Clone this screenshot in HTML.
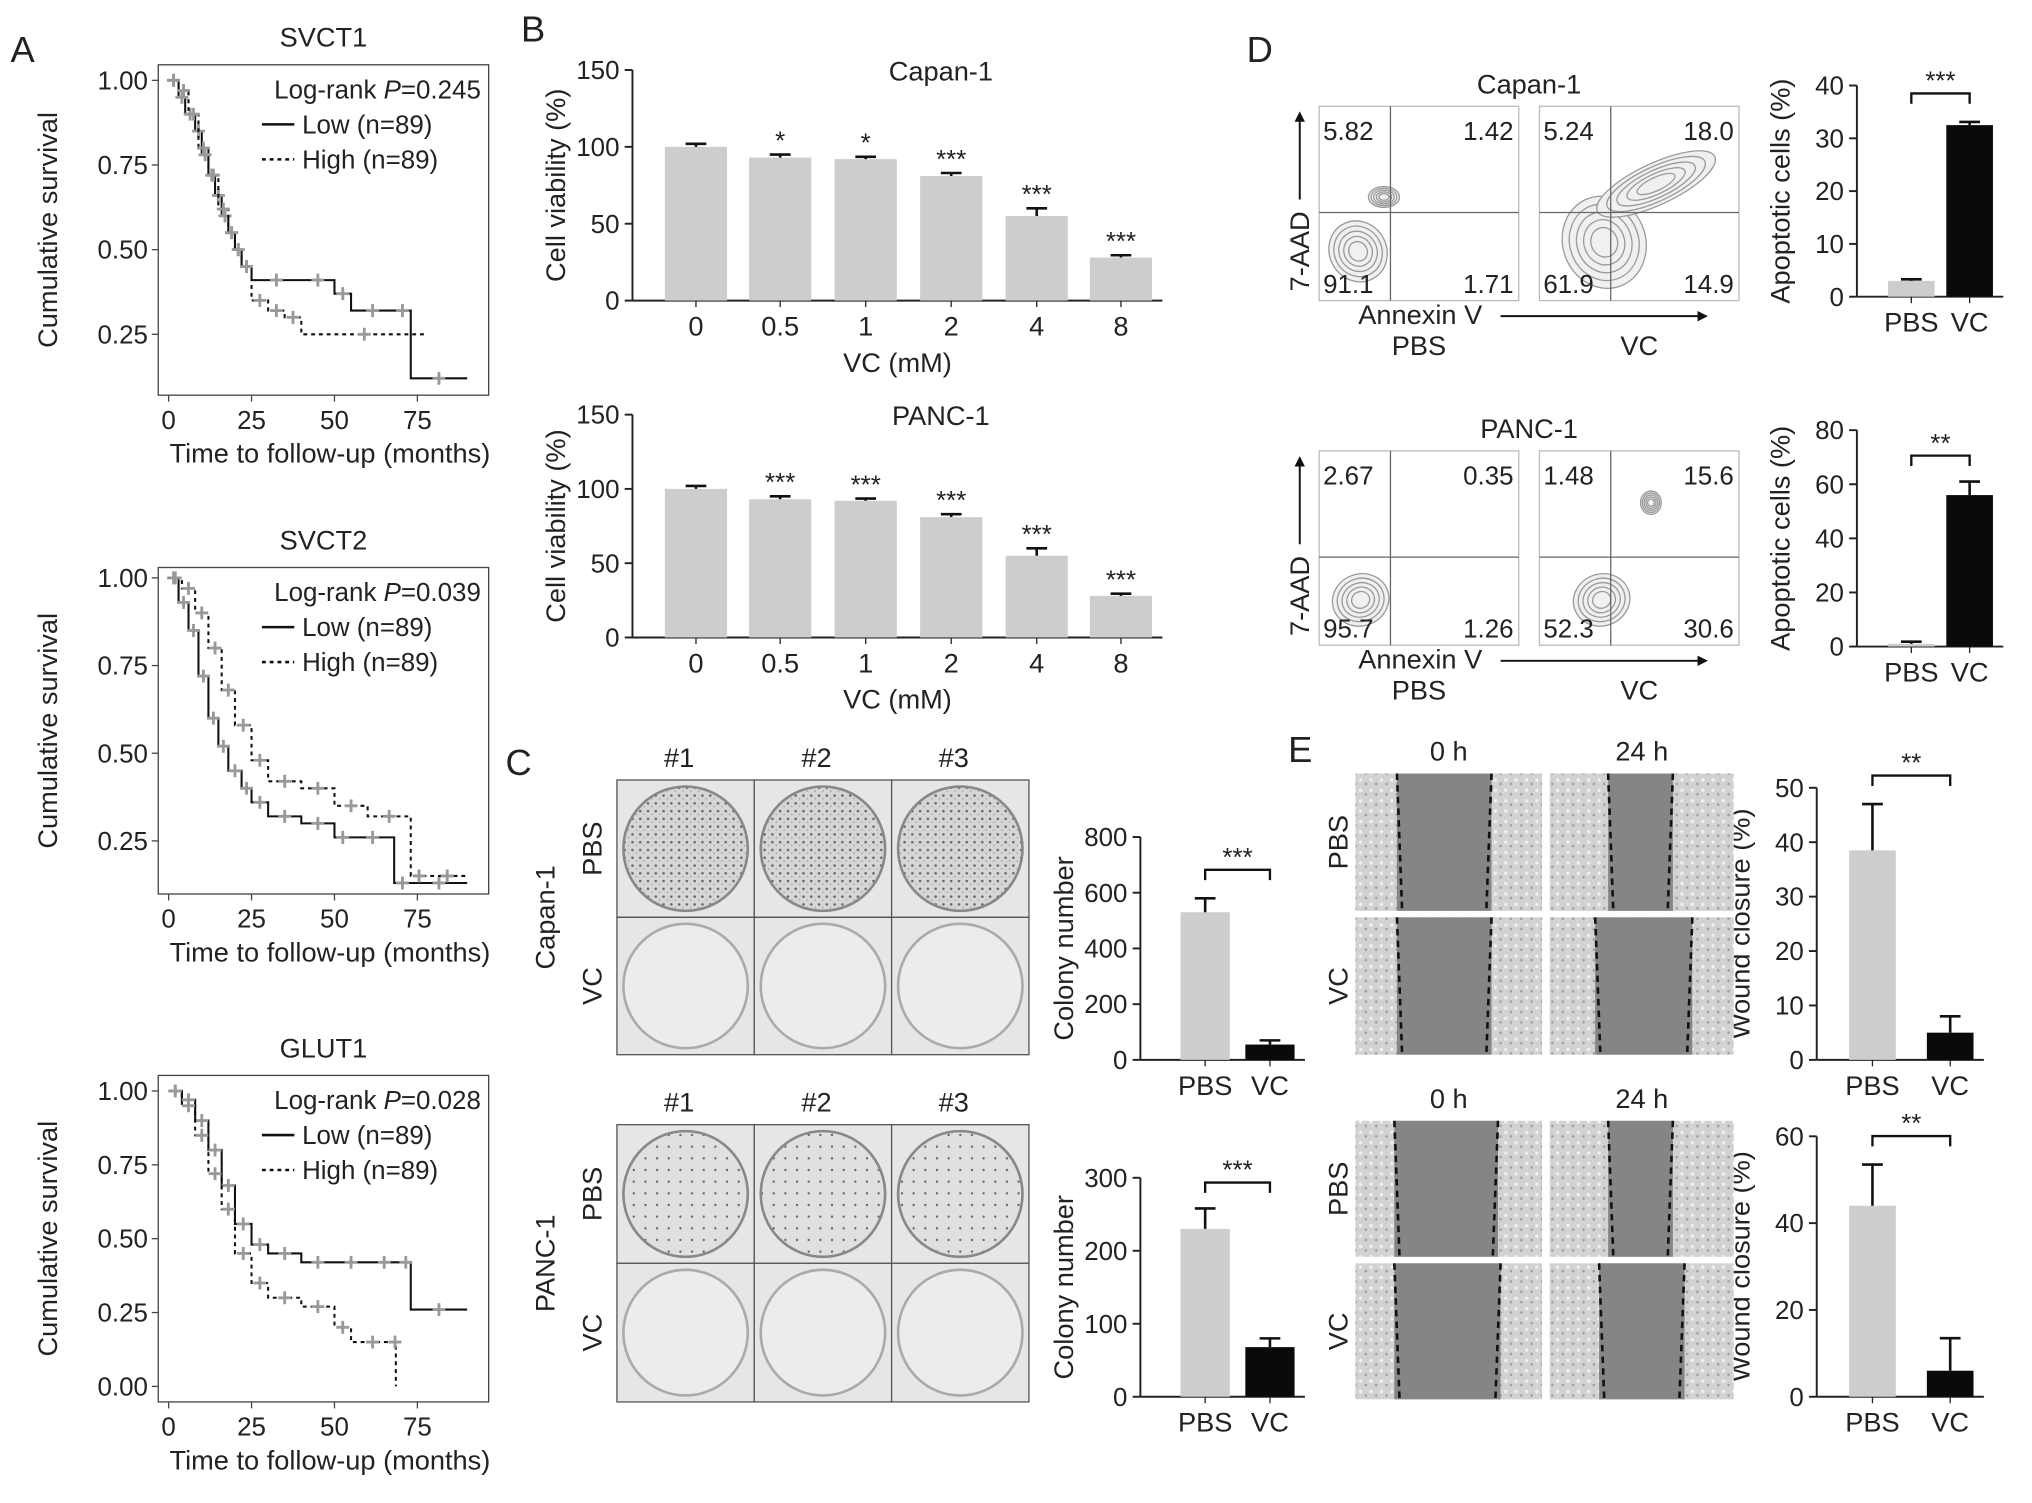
<!DOCTYPE html>
<html><head><meta charset="utf-8">
<style>
html,body{margin:0;padding:0;background:#fff;}
svg{display:block;font-family:"Liberation Sans",Arial,sans-serif;}
</style></head>
<body>
<svg id="fig" width="2032" height="1503" viewBox="0 0 1568 1160" xmlns="http://www.w3.org/2000/svg">
<defs>
<pattern id="colPBS" width="6" height="6" patternUnits="userSpaceOnUse"><rect width="6" height="6" fill="#d6d6d6"/><circle cx="2" cy="2" r="1" fill="#666"/><circle cx="5" cy="4.5" r="0.6" fill="#999"/></pattern>
<pattern id="colPBS2" width="9" height="9" patternUnits="userSpaceOnUse"><rect width="9" height="9" fill="#e0e0e0"/><circle cx="3" cy="3" r="0.9" fill="#666"/></pattern>
<pattern id="cells" width="8" height="8" patternUnits="userSpaceOnUse"><rect width="8" height="8" fill="#d2d2d2"/><circle cx="2" cy="2" r="1.3" fill="#f0f0f0"/><circle cx="6" cy="5" r="1" fill="#a0a0a0"/></pattern>
</defs>
<g id="root"></g>
</svg>
<script>
// ---- data ----
const kmTimes1Low=[0,3,5,8,10,12,14,16,18,20,22,25,40,50,55,68,73,90];
const kmSurv1Low=[1,.95,.9,.85,.78,.72,.66,.6,.55,.5,.45,.41,.41,.37,.32,.32,.12,.12];
const kmTimes1High=[0,3,6,9,12,15,18,20,22,25,30,35,40,78];
const kmSurv1High=[1,.97,.9,.8,.72,.62,.55,.5,.45,.35,.32,.3,.25,.25];
const kmTimes2Low=[0,3,6,9,12,15,18,22,25,30,40,50,55,68,73,90];
const kmSurv2Low=[1,.93,.85,.72,.6,.52,.45,.4,.36,.32,.3,.26,.26,.13,.13,.13];
const kmTimes2High=[0,4,8,12,16,20,25,30,40,50,60,73,78,90];
const kmSurv2High=[1,.97,.9,.8,.68,.58,.48,.42,.4,.35,.32,.15,.15,.15];
const kmTimes3Low=[0,4,8,12,16,20,25,30,40,50,60,70,73,90];
const kmSurv3Low=[1,.97,.9,.8,.68,.55,.48,.45,.42,.42,.42,.42,.26,.26];
const kmTimes3High=[0,4,8,12,16,20,25,30,40,50,55,68,68.5];
const kmSurv3High=[1,.95,.85,.72,.6,.45,.35,.3,.27,.2,.15,.15,0];
const vcCats=["0","0.5","1","2","4","8"];
const capanViab=[100,93,92,81,55,28];
const capanErr=[2,2,1.5,2,5,1.5];
const capanSig=["","*","*","***","***","***"];
const pancViab=[100,93,92,81,55,28];
const pancErr=[2,2,1.5,2,5,1.5];
const pancSig=["","***","***","***","***","***"];
const groups=["PBS","VC"];
const colonyCapan=[530,55];const colonyCapanErr=[50,15];
const colonyPanc=[230,68];const colonyPancErr=[28,12];
const apopCapan=[3,32.5];const apopCapanErr=[0.3,0.6];
const apopPanc=[1,56];const apopPancErr=[0.8,5];
const woundCapan=[38.5,5];const woundCapanErr=[8.5,3];
const woundPanc=[44,6];const woundPancErr=[9.5,7.5];
const flowCapan=[["5.82","1.42","91.1","1.71"],["5.24","18.0","61.9","14.9"]];
const flowPanc=[["2.67","0.35","95.7","1.26"],["1.48","15.6","52.3","30.6"]];

const NS="http://www.w3.org/2000/svg";
const root=document.getElementById('root');
function el(tag,attrs,parent,txt){const e=document.createElementNS(NS,tag);for(const k in attrs)e.setAttribute(k,attrs[k]);if(txt!==undefined)e.textContent=txt;(parent||root).appendChild(e);return e;}
function text(x,y,s,size,anchor,name,extra){const t=el('text',Object.assign({x:x,y:y,'font-size':size,'text-anchor':anchor||'middle',fill:'#222'},extra||{}),root,s);


return t;}

[["A",8,48],["B",402,32],["C",390,598],["D",962,48],["E",994,588]].forEach(p=>{text(p[1],p[2],p[0],28,'start','panel-label-'+p[0].toLowerCase());});

function km(cfg){
 const {x0,x1,yTop,yBot,xs,ys,ymin,title,p,tl,sl,th,sh,id,yticks}=cfg;
 const fx=v=>xs[0]+(v-0)*(xs[1]-xs[0])/75;
 const fy=v=>ys[0]+(1-v)*(ys[1]-ys[0])/(1-ymin);
 const f=el('rect',{x:x0,y:yTop,width:x1-x0,height:yBot-yTop,fill:'none',stroke:'#444','stroke-width':1});
 
 text((x0+x1)/2,yTop-14,title,21,'middle',id+'-title');
 yticks.forEach(v=>{el('line',{x1:x0-5,x2:x0,y1:fy(v),y2:fy(v),stroke:'#444'});text(x0-8,fy(v)+7,v.toFixed(2),20,'end',id+'-y-tick');});
 [0,25,50,75].forEach(v=>{el('line',{x1:fx(v),x2:fx(v),y1:yBot,y2:yBot+5,stroke:'#444'});text(fx(v),yBot+26,String(v),20,'middle',id+'-x-tick');});
 text((x0+x1)/2+5,yBot+52,'Time to follow-up (months)',21,'middle',id+'-x-axis-title');
 text(0,0,'Cumulative survival',21,'middle',id+'-y-axis-title',{transform:`translate(${x0-78},${(yTop+yBot)/2}) rotate(-90)`});
 function step(t,s,dash,nm){let d=`M${fx(t[0])},${fy(s[0])}`;for(let i=1;i<t.length;i++){d+=`H${fx(t[i])}V${fy(s[i])}`;}
  const pth=el('path',{d:d,fill:'none',stroke:'#111','stroke-width':1.6,'stroke-dasharray':dash});
  
  for(let i=1;i<t.length;i++){const cx=fx((t[i-1]+t[i])/2),cy=fy(s[i-1]);el('path',{d:`M${cx-5},${cy}h10M${cx},${cy-5}v10`,stroke:'#999','stroke-width':2.2});}
 }
 step(tl,sl,'',id+'-low-curve');step(th,sh,'3,3',id+'-high-curve');
 text(x1-6,yTop+26,'Log-rank ',20,'end',id+'-pvalue').innerHTML='Log-rank <tspan font-style="italic">P</tspan>='+p;
 el('line',{x1:x1-175,x2:x1-150,y1:yTop+46,y2:yTop+46,stroke:'#111','stroke-width':2});
 text(x1-144,yTop+53,'Low (n=89)',20,'start',id+'-legend-low');
 el('line',{x1:x1-175,x2:x1-150,y1:yTop+73,y2:yTop+73,stroke:'#111','stroke-width':2,'stroke-dasharray':'3,3'});
 text(x1-144,yTop+80,'High (n=89)',20,'start',id+'-legend-high');
}
km({x0:122,x1:377,yTop:50,yBot:305,xs:[130,322],ys:[62,258],ymin:.25,title:'SVCT1',p:'0.245',tl:kmTimes1Low,sl:kmSurv1Low,th:kmTimes1High,sh:kmSurv1High,id:'km-svct1',yticks:[1,.75,.5,.25]});
km({x0:122,x1:377,yTop:438,yBot:690,xs:[130,322],ys:[446,649],ymin:.25,title:'SVCT2',p:'0.039',tl:kmTimes2Low,sl:kmSurv2Low,th:kmTimes2High,sh:kmSurv2High,id:'km-svct2',yticks:[1,.75,.5,.25]});
km({x0:122,x1:377,yTop:830,yBot:1082,xs:[130,322],ys:[842,1070],ymin:0,title:'GLUT1',p:'0.028',tl:kmTimes3Low,sl:kmSurv3Low,th:kmTimes3High,sh:kmSurv3High,id:'km-glut1',yticks:[1,.75,.5,.25,0]});

function bars(cfg){
 const {ax,y0,ymaxPx,ymax,ticks,centers,w,vals,errs,colors,cats,id,ytitle,sig,xtitle,bracket,title,titleX,fs}=cfg;
 const fy=v=>y0-(v/ymax)*(y0-ymaxPx);
 const last=centers[centers.length-1]+w/2+8;
 el('line',{x1:ax,x2:ax,y1:fy(ymax),y2:y0,stroke:'#222','stroke-width':1.5});
 el('line',{x1:ax,x2:last,y1:y0,y2:y0,stroke:'#222','stroke-width':1.5});
 ticks.forEach(v=>{el('line',{x1:ax-6,x2:ax,y1:fy(v),y2:fy(v),stroke:'#222','stroke-width':1.5});text(ax-10,fy(v)+7,String(v),20,'end',id+'-y-tick');});
 vals.forEach((v,i)=>{const c=centers[i];
  const r=el('rect',{x:c-w/2,y:fy(v),width:w,height:y0-fy(v),fill:colors[i]});
  
  const e=fy(v+errs[i]);el('path',{d:`M${c},${fy(v)}V${e}M${c-8},${e}H${c+8}`,stroke:'#111','stroke-width':2,fill:'none'});
  el('line',{x1:c,x2:c,y1:y0,y2:y0+5,stroke:'#222'});
  text(c,y0+27,cats[i],21,'middle',id+'-x-tick');
  if(sig&&sig[i])text(c,e-4,sig[i],20,'middle',id+'-sig');
 });
 text(0,0,ytitle,fs||21,'middle',id+'-y-axis-title',{transform:`translate(${ax-52},${(y0+fy(ymax))/2}) rotate(-90)`});
 if(xtitle)text((ax+last)/2,y0+55,xtitle,21,'middle',id+'-x-axis-title');
 if(title)text(titleX,fy(ymax)+8,title,21,'middle',id+'-title');
 if(bracket){const by=Math.min(fy(vals[0]+errs[0]),fy(vals[1]+errs[1]))-bracket[0];
  el('path',{d:`M${centers[0]},${by+8}V${by}H${centers[1]}V${by+8}`,stroke:'#111','stroke-width':1.8,fill:'none'});
  text((centers[0]+centers[1])/2,by-3,bracket[1],20,'middle',id+'-sig');}
}
const bc=[537,602,668,734,800,865];const gray=Array(6).fill('#cdcdcd');
bars({ax:488,y0:232,ymaxPx:54,ymax:150,ticks:[0,50,100,150],centers:bc,w:48,vals:capanViab,errs:capanErr,colors:gray,cats:vcCats,id:'capan-viability',ytitle:'Cell viability (%)',sig:capanSig,xtitle:'VC (mM)',title:'Capan-1',titleX:726});
bars({ax:488,y0:492,ymaxPx:320,ymax:150,ticks:[0,50,100,150],centers:bc,w:48,vals:pancViab,errs:pancErr,colors:gray,cats:vcCats,id:'panc-viability',ytitle:'Cell viability (%)',sig:pancSig,xtitle:'VC (mM)',title:'PANC-1',titleX:726});
const pv=['#cdcdcd','#0a0a0a'];
bars({ax:880,y0:818,ymaxPx:646,ymax:800,ticks:[0,200,400,600,800],centers:[930,980],w:38,vals:colonyCapan,errs:colonyCapanErr,colors:pv,cats:groups,id:'capan-colony',ytitle:'Colony number',bracket:[22,'***']});
bars({ax:880,y0:1078,ymaxPx:909,ymax:300,ticks:[0,100,200,300],centers:[930,980],w:38,vals:colonyPanc,errs:colonyPancErr,colors:pv,cats:groups,id:'panc-colony',ytitle:'Colony number',bracket:[20,'***']});
bars({ax:1433,y0:229,ymaxPx:66,ymax:40,ticks:[0,10,20,30,40],centers:[1475,1520],w:36,vals:apopCapan,errs:apopCapanErr,colors:pv,cats:groups,id:'capan-apoptosis',ytitle:'Apoptotic cells (%)',bracket:[22,'***']});
bars({ax:1433,y0:499,ymaxPx:332,ymax:80,ticks:[0,20,40,60,80],centers:[1475,1520],w:36,vals:apopPanc,errs:apopPancErr,colors:pv,cats:groups,id:'panc-apoptosis',ytitle:'Apoptotic cells (%)',bracket:[20,'**']});
bars({ax:1402,y0:818,ymaxPx:608,ymax:50,ticks:[0,10,20,30,40,50],centers:[1445,1505],w:36,vals:woundCapan,errs:woundCapanErr,colors:pv,cats:groups,id:'capan-wound',ytitle:'Wound closure (%)',bracket:[22,'**']});
bars({ax:1402,y0:1078,ymaxPx:877,ymax:60,ticks:[0,20,40,60],centers:[1445,1505],w:36,vals:woundPanc,errs:woundPancErr,colors:pv,cats:groups,id:'panc-wound',ytitle:'Wound closure (%)',bracket:[22,'**']});

function dishes(x0,y0,h,label,id,fillTop){
 ['#1','#2','#3'].forEach((s,i)=>text(x0+48+i*106,y0-10,s,21,'middle',id+'-replicate-label'));
 for(let r=0;r<2;r++)for(let c=0;c<3;c++){const x=x0+c*106,y=y0+r*h;
  const b=el('rect',{x:x,y:y,width:106,height:h,fill:'#e6e6e6',stroke:'#555','stroke-width':1});
  
  el('ellipse',{cx:x+53,cy:y+h/2,rx:48,ry:h/2-5,fill:r?'#ececec':fillTop,stroke:r?'#aaa':'#888','stroke-width':2});}
 text(0,0,'PBS',21,'middle',id+'-pbs-label',{transform:`translate(${x0-12},${y0+h/2}) rotate(-90)`});
 text(0,0,'VC',21,'middle',id+'-vc-label',{transform:`translate(${x0-12},${y0+1.5*h}) rotate(-90)`});
 text(0,0,label,21,'middle',id+'-cell-line-label',{transform:`translate(${x0-48},${y0+h}) rotate(-90)`});
}
dishes(476,602,106,'Capan-1','capan-colony-img','url(#colPBS)');
dishes(476,868,107,'PANC-1','panc-colony-img','url(#colPBS2)');

function flow(y0,vals,title,id,blobs){
 text(1180,y0-10,title,21,'middle',id+'-title');
 [1018,1188].forEach((x,k)=>{const w=154,h=150;
  const b=el('rect',{x:x,y:y0,width:w,height:h,fill:'#fff',stroke:'#bbb','stroke-width':1});
  
  blobs[k].forEach(bl=>{for(let j=0;j<5;j++)el('ellipse',{cx:x+bl[0],cy:y0+bl[1],rx:bl[2]*(1-j*0.17),ry:bl[3]*(1-j*0.17),fill:j==0?'#f0f0f0':'none',stroke:'#999','stroke-width':1,transform:`rotate(${bl[4]||0} ${x+bl[0]} ${y0+bl[1]})`});});
  el('line',{x1:x+55,x2:x+55,y1:y0,y2:y0+h,stroke:'#666'});
  el('line',{x1:x,x2:x+w,y1:y0+82,y2:y0+82,stroke:'#666'});
  const v=vals[k];
  text(x+3,y0+26,v[0],20,'start',id+'-quadrant-ul');text(x+w-4,y0+26,v[1],20,'end',id+'-quadrant-ur');
  text(x+3,y0+h-6,v[2],20,'start',id+'-quadrant-ll');text(x+w-4,y0+h-6,v[3],20,'end',id+'-quadrant-ur');
  text(x+77,y0+h+42,groups[k],21,'middle',id+'-group-label');
 });
 text(1096,y0+h0+18,'Annexin V',21,'middle',id+'-x-axis-title');
 el('line',{x1:1158,x2:1312,y1:y0+h0+12,y2:y0+h0+12,stroke:'#111','stroke-width':1.5});
 el('path',{d:`M1318,${y0+h0+12}l-8,-4v8z`,fill:'#111'});
 text(0,0,'7-AAD',21,'middle',id+'-y-axis-title',{transform:`translate(1010,${y0+112}) rotate(-90)`});
 el('line',{x1:1003,x2:1003,y1:y0+10,y2:y0+72,stroke:'#111','stroke-width':1.5});
 el('path',{d:`M1003,${y0+4}l-4,8h8z`,fill:'#111'});
}
const h0=150;
flow(82,flowCapan,'Capan-1','capan-flow',[[[30,112,22,24,-30],[50,70,12,8]],[[50,105,32,36,-20],[90,60,50,16,-25]]]);
flow(348,flowPanc,'PANC-1','panc-flow',[[[32,115,22,20,-20]],[[48,115,22,20,-20],[86,40,8,9]]]);

function wound(y0,h,id,gaps){
 text(1118,y0-10,'0 h',21,'middle',id+'-time-label');text(1267,y0-10,'24 h',21,'middle',id+'-time-label');
 for(let r=0;r<2;r++)[1046,1196].forEach((x,c)=>{const w=c?142:144,y=y0+r*(h+5);
  const b=el('rect',{x:x,y:y,width:w,height:h,fill:'url(#cells)'});
  
  const g=gaps[r][c];el('rect',{x:x+g[0],y:y,width:g[1]-g[0],height:h,fill:'#858585'});
  el('line',{x1:x+g[0],x2:x+g[0]+4,y1:y,y2:y+h,stroke:'#111','stroke-width':2,'stroke-dasharray':'5,4'});
  el('line',{x1:x+g[1],x2:x+g[1]-4,y1:y,y2:y+h,stroke:'#111','stroke-width':2,'stroke-dasharray':'5,4'});
 });
 text(0,0,'PBS',21,'middle',id+'-pbs-label',{transform:`translate(1040,${y0+h/2}) rotate(-90)`});
 text(0,0,'VC',21,'middle',id+'-vc-label',{transform:`translate(1040,${y0+1.5*h+5}) rotate(-90)`});
}
wound(597,106,'capan-wound-img',[[[32,105],[45,95]],[[32,105],[35,110]]]);
wound(865,105,'panc-wound-img',[[[30,110],[45,95]],[[30,112],[38,104]]]);
</script>
</body></html>
